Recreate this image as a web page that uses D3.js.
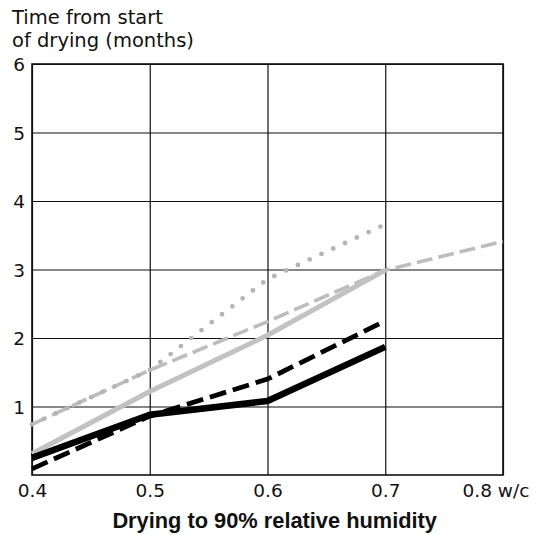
<!DOCTYPE html>
<meta charset="utf-8">
<script src="https://cdn.jsdelivr.net/npm/d3@7/dist/d3.min.js"></script>
<style>
body { margin: 0; background: #fff; }
.axis text { font: 18.5px "DejaVu Sans", sans-serif; fill: #111; }
.axis .domain { display: none; }
.axis line { stroke: #111; stroke-width: 1.2px; }
.title { font: 19.5px "DejaVu Sans", sans-serif; fill: #111; }
.xtitle { font: bold 21.8px "Liberation Sans", Arial, sans-serif; fill: #111; }
.line { fill: none; }
</style>
<div id="chart"></div>
<script>
// w/c ratios and drying times (months)
var wc = [0.4, 0.5, 0.6, 0.7],
    wcLong = [0.4, 0.5, 0.6, 0.7, 0.8];

var blackSolid  = [0.25, 0.88, 1.08, 1.87],
    blackDashed = [0.09, 0.86, 1.40, 2.25],
    graySolid   = [0.31, 1.22, 2.04, 2.99],
    grayDashed  = [0.74, 1.53, 2.24, 2.99, 3.41],
    grayDotted  = [0.74, 1.53, 2.86, 3.66];

var xTicks = [0.4, 0.5, 0.6, 0.7, 0.8],
    yTicks = [1, 2, 3, 4, 5, 6],
    titleLines = ["Time from start", "of drying (months)"],
    xTitle = "Drying to 90% relative humidity";

var margin = {top: 64, right: 45, bottom: 60, left: 32},
    width  = 548 - margin.left - margin.right,
    height = 535 - margin.top - margin.bottom;

var x = d3.scaleLinear().domain([0.4, 0.8]).range([0, width]);
var y = d3.scaleLinear().domain([0, 6]).range([height, 0]);

var svg = d3.select("#chart").append("svg")
    .attr("width", 548)
    .attr("height", 535);

var g = svg.append("g")
    .attr("transform", "translate(" + margin.left + "," + margin.top + ")");

// grid via axes
g.append("g")
    .attr("class", "axis axis--y")
    .call(d3.axisLeft(y).tickValues(yTicks).tickSize(-width).tickPadding(7).tickFormat(d3.format("d")))
  .selectAll("text")
    .attr("dy", "0.36em");

var xa = g.append("g")
    .attr("class", "axis axis--x")
    .attr("transform", "translate(0," + height + ")")
    .call(d3.axisBottom(x).tickValues(xTicks).tickSize(-height).tickPadding(8)
      .tickFormat(function(d) { return d === 0.8 ? "0.8 w/c" : d3.format(".1f")(d); }));
xa.selectAll("text").attr("y", 22).attr("dy", 0);
xa.selectAll(".tick").filter(function(d) { return d === 0.8; }).select("text")
    .attr("text-anchor", "start").attr("x", -41);

// frame
g.append("rect")
    .attr("width", width)
    .attr("height", height)
    .attr("fill", "none")
    .attr("stroke", "#111")
    .attr("stroke-width", 1.6);

function lineOf(xs) {
  return d3.line().x(function(d, i) { return x(xs[i]); }).y(function(d) { return y(d); });
}

g.append("path").datum(grayDashed).attr("class", "line")
    .attr("d", lineOf(wcLong))
    .attr("stroke", "#bdbdbd").attr("stroke-width", 3.6)
    .attr("stroke-dasharray", "16,6");

g.append("path").datum(grayDotted).attr("class", "line")
    .attr("d", lineOf(wc))
    .attr("stroke", "#b5b5b5").attr("stroke-width", 4.8)
    .attr("stroke-linecap", "round")
    .attr("stroke-dasharray", "0,13");

g.append("path").datum(graySolid).attr("class", "line")
    .attr("d", lineOf(wc))
    .attr("stroke", "#c2c2c2").attr("stroke-width", 5);

g.append("path").datum(blackDashed).attr("class", "line")
    .attr("d", lineOf(wc))
    .attr("stroke", "#000").attr("stroke-width", 4.8)
    .attr("stroke-dasharray", "17,7");

g.append("path").datum(blackSolid).attr("class", "line")
    .attr("d", lineOf(wc))
    .attr("stroke", "#000").attr("stroke-width", 6.5)
    .attr("stroke-linejoin", "round");

// titles
svg.append("text")
    .attr("class", "title")
    .attr("x", 12)
    .selectAll("tspan")
    .data(titleLines)
  .enter().append("tspan")
    .attr("x", 12)
    .attr("y", function(d, i) { return 24 + i * 22.7; })
    .text(function(d) { return d; });

svg.append("text")
    .attr("class", "xtitle")
    .attr("x", 274.7)
    .attr("y", 528)
    .attr("text-anchor", "middle")
    .text(xTitle);
</script>
